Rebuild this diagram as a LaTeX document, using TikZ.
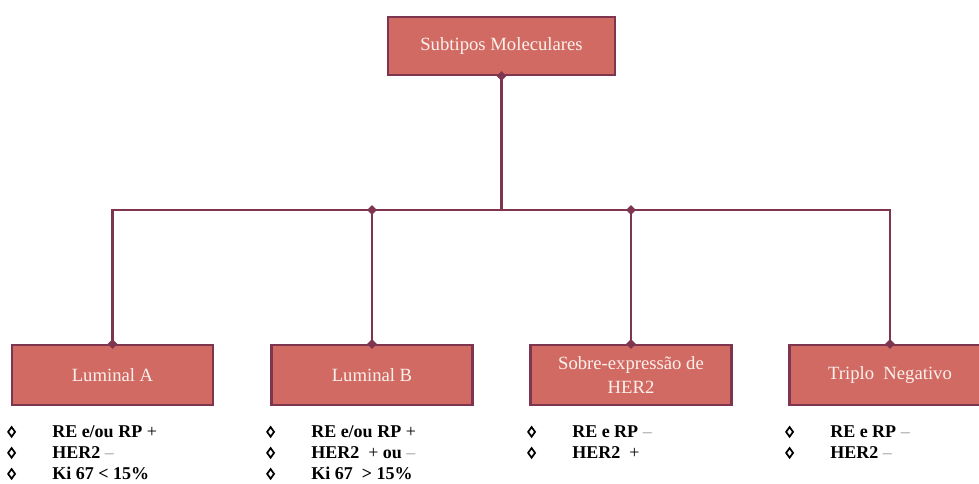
\documentclass[tikz,border=0pt]{standalone}
\usepackage{fontspec}
\setmainfont{Liberation Serif}
\usepackage{xcolor}
\usepackage{tikz}
\usetikzlibrary{positioning,shapes.geometric,calc}
\definecolor{boxfill}{HTML}{D26A64}
\definecolor{linkc}{HTML}{7E3650}
\definecolor{boxtext}{HTML}{FBF1EC}

% bold lozenge bullet
\newcommand{\lz}{\tikz[baseline=0pt,x=1pt,y=1pt]\draw[line width=1.3pt,black]
  (2.6,0.6) -- (5.2,4.2) -- (2.6,7.8) -- (0,4.2) -- cycle;}
\newcommand{\dsh}{\textcolor{gray!80}{\textmd{–}}}

\begin{document}
\begin{tikzpicture}[
  x=0.75pt, y=-0.75pt,
  every node/.style={font=\fontsize{14pt}{17pt}\selectfont},
  subtype/.style={draw=linkc,line width=1.6pt,fill=boxfill,text=boxtext,align=center,
    minimum width=150.75pt,minimum height=45pt,inner sep=2pt},
  link/.style={draw=linkc,line width=1.8pt},
  jdot/.style={diamond,fill=linkc,inner sep=0pt,minimum size=7.5pt},
  traits/.style={anchor=north west,inner sep=0pt,font=\fontsize{13.5pt}{15.75pt}\selectfont\bfseries}
]
\clip (0,0) rectangle (979,483);

% boxes
\node[subtype,minimum width=170.25pt,minimum height=43.5pt] (root) at (501.5,46) {Subtipos Moleculares};
\node[subtype] (luma) at (112.5,375) {Luminal A};
\node[subtype] (lumb) at (372,375) {Luminal B};
\node[subtype,font=\fontsize{14pt}{18.5pt}\selectfont] (her2) at (631,375) {Sobre-expressão de\\HER2};
\node[subtype] (tneg) at (890,375) {Triplo\ \ Negativo};

% connectors
\coordinate (bus) at (501.5,210);
\draw[link] (root.south) -- (bus);
\draw[link] (luma.north) |- (bus) -| (tneg.north);
\draw[link] (lumb.north) -- (lumb.north |- bus);
\draw[link] (her2.north) -- (her2.north |- bus);

% junction marks
\foreach \p in {root.south,luma.north,lumb.north,her2.north,tneg.north}
  \node[jdot] at (\p) {};
\node[jdot] at (lumb.north |- bus) {};
\node[jdot] at (her2.north |- bus) {};

% markers under each box
\node[traits] (luma-t) at (7,422.5) {\begin{tabular}{@{}p{33.75pt}@{}l@{}}
  \lz & RE e/ou RP \textmd{+}\\ \lz & HER2 \dsh\\ \lz & Ki 67 < 15\%\end{tabular}};
\node[traits] (lumb-t) at (266,422.5) {\begin{tabular}{@{}p{33.75pt}@{}l@{}}
  \lz & RE e/ou RP \textmd{+}\\ \lz & HER2\ \ \textmd{+} ou \dsh\\ \lz & Ki 67\ \ > 15\%\end{tabular}};
\node[traits] (her2-t) at (527,422.5) {\begin{tabular}{@{}p{33.75pt}@{}l@{}}
  \lz & RE e RP \dsh\\ \lz & HER2\ \ \textmd{+}\end{tabular}};
\node[traits] (tneg-t) at (785,422.5) {\begin{tabular}{@{}p{33.75pt}@{}l@{}}
  \lz & RE e RP \dsh\\ \lz & HER2 \dsh\end{tabular}};
\end{tikzpicture}
\end{document}
